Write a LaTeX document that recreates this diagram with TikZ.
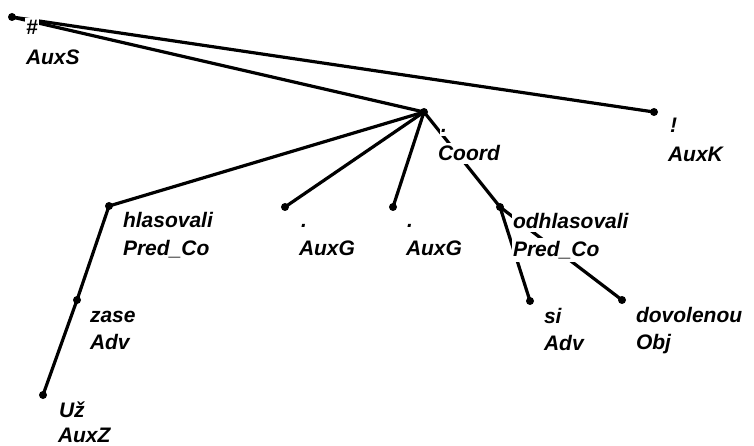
\documentclass[tikz,border=0pt]{standalone}
\usepackage{fontspec}
\setmainfont{Liberation Sans}
\usepackage{tikz}
\usetikzlibrary{calc}

\begin{document}
\begin{tikzpicture}[x=1pt,y=-1pt,
  font=\fontsize{21}{27}\selectfont\bfseries\itshape,
  dot/.style={circle,fill=black,inner sep=0pt,minimum size=8pt},
  edge/.style={line width=3.2pt,line cap=round},
  tag/.style={anchor=base west,fill=white,inner xsep=1pt,inner ysep=3pt,outer sep=0pt}]
\useasboundingbox[fill=white] (0,0) rectangle (754,446);
% tree nodes
\node[dot] (root) at (12,17) {};
\node[dot] (coord) at (424,112) {};
\node[dot] (auxk) at (654,112) {};
\node[dot] (hl) at (109,206) {};
\node[dot] (g1) at (285,207) {};
\node[dot] (g2) at (393,207) {};
\node[dot] (odhl) at (500,207) {};
\node[dot] (zase) at (77,300) {};
\node[dot] (uz) at (43,395) {};
\node[dot] (si) at (530,301) {};
\node[dot] (dov) at (622,300) {};
% dependencies
\draw[edge] (root.center)--(coord.center);
\draw[edge] (root.center)--(auxk.center);
\draw[edge] (coord.center)--(hl.center);
\draw[edge] (coord.center)--(g1.center);
\draw[edge] (coord.center)--(g2.center);
\draw[edge] (coord.center)--(odhl.center);
\draw[edge] (hl.center)--(zase.center)--(uz.center);
\draw[edge] (odhl.center)--(si.center);
\draw[edge] (odhl.center)--(dov.center);
% word forms and functions
\node[tag] (root-f) at ($(root)+(13,18)$) {\#};
\node[tag] (root-a) at ($(root)+(13,48)$) {AuxS};
\node[tag] (coord-f) at ($(coord)+(16,21)$) {.};
\node[tag] (coord-a) at ($(coord)+(13,49)$) {Coord};
\node[tag] (auxk-f) at ($(auxk)+(15,21)$) {!};
\node[tag] (auxk-a) at ($(auxk)+(13,50)$) {AuxK};
\node[tag] (hl-f) at ($(hl)+(13,22)$) {hlasovali};
\node[tag] (hl-a) at ($(hl)+(13,49)$) {Pred\_Co};
\node[tag] (g1-f) at ($(g1)+(15,21)$) {.};
\node[tag] (g1-a) at ($(g1)+(13,48)$) {AuxG};
\node[tag] (g2-f) at ($(g2)+(13,21)$) {.};
\node[tag] (g2-a) at ($(g2)+(12,48)$) {AuxG};
\node[tag] (odhl-f) at ($(odhl)+(12,22)$) {odhlasovali};
\node[tag] (odhl-a) at ($(odhl)+(12,49)$) {Pred\_Co};
\node[tag] (zase-f) at ($(zase)+(12,22)$) {zase};
\node[tag] (zase-a) at ($(zase)+(12,49)$) {Adv};
\node[tag] (uz-f) at ($(uz)+(15,22)$) {Už};
\node[tag] (uz-a) at ($(uz)+(14,47)$) {AuxZ};
\node[tag] (si-f) at ($(si)+(13,22)$) {si};
\node[tag] (si-a) at ($(si)+(13,49)$) {Adv};
\node[tag] (dov-f) at ($(dov)+(13,22)$) {dovolenou};
\node[tag] (dov-a) at ($(dov)+(13,49)$) {Obj};
\end{tikzpicture}
\end{document}
